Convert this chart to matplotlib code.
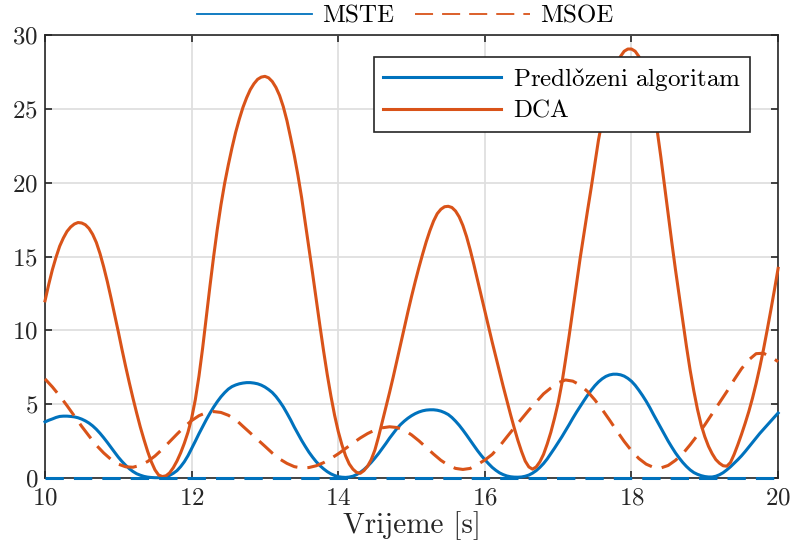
import numpy as np
import matplotlib.pyplot as plt
from matplotlib.lines import Line2D

plt.rcParams["font.family"] = ["cmr10", "DejaVu Serif"]
plt.rcParams["mathtext.fontset"] = "cm"
plt.rcParams["axes.formatter.use_mathtext"] = True

# sample times [s]
t = np.linspace(10.0, 20.0, 201)      # tracking errors, 0.05 s step
t_msoe = np.linspace(10.0, 20.0, 101)  # orientation errors, 0.1 s step

# mean squared tracking error, proposed algorithm
mste_pred = [
    3.8, 3.91, 4.0, 4.1, 4.17, 4.19, 4.19, 4.17, 4.14, 4.08,
    3.99, 3.87, 3.72, 3.53, 3.30, 3.03, 2.73, 2.41, 2.07, 1.74,
    1.41, 1.12, 0.86, 0.63, 0.44, 0.29, 0.19, 0.11, 0.06, 0.035,
    0.02, 0.02, 0.04, 0.095, 0.18, 0.32, 0.5, 0.77, 1.1, 1.51,
    2.0, 2.49, 3.0, 3.48, 3.95, 4.39, 4.8, 5.17, 5.5, 5.78,
    6.02, 6.19, 6.30, 6.38, 6.43, 6.46, 6.46, 6.43, 6.38, 6.29,
    6.16, 5.99, 5.79, 5.52, 5.19, 4.82, 4.39, 3.94, 3.45, 3.0,
    2.55, 2.14, 1.75, 1.41, 1.1, 0.84, 0.62, 0.43, 0.28, 0.17,
    0.09, 0.055, 0.04, 0.065, 0.12, 0.23, 0.38, 0.57, 0.8, 1.06,
    1.35, 1.66, 2.0, 2.34, 2.7, 3.03, 3.35, 3.62, 3.85, 4.05,
    4.22, 4.36, 4.47, 4.55, 4.6, 4.62, 4.62, 4.59, 4.53, 4.43,
    4.3, 4.1, 3.85, 3.57, 3.25, 2.91, 2.55, 2.2, 1.85, 1.53,
    1.24, 0.97, 0.72, 0.52, 0.35, 0.23, 0.14, 0.085, 0.06, 0.055,
    0.07, 0.12, 0.2, 0.33, 0.5, 0.72, 0.98, 1.29, 1.65, 2.02,
    2.4, 2.79, 3.2, 3.62, 4.05, 4.46, 4.85, 5.23, 5.6, 5.94,
    6.25, 6.51, 6.72, 6.88, 6.98, 7.03, 7.03, 6.99, 6.9, 6.75,
    6.55, 6.28, 5.95, 5.59, 5.2, 4.77, 4.3, 3.85, 3.4, 2.95,
    2.5, 2.09, 1.7, 1.36, 1.05, 0.78, 0.55, 0.37, 0.25, 0.16,
    0.1, 0.07, 0.07, 0.12, 0.22, 0.36, 0.55, 0.76, 1.0, 1.24,
    1.5, 1.79, 2.1, 2.41, 2.72, 3.02, 3.3, 3.58, 3.85, 4.13,
    4.4,
]

# mean squared tracking error, DCA
mste_dca = [
    12.0, 13.1, 14.1, 14.95, 15.7, 16.25, 16.7, 17.0, 17.2, 17.3,
    17.27, 17.15, 16.9, 16.5, 15.95, 15.2, 14.3, 13.3, 12.2, 11.05,
    9.9, 8.7, 7.55, 6.45, 5.4, 4.4, 3.45, 2.6, 1.8, 1.1,
    0.55, 0.2, 0.1, 0.15, 0.35, 0.7, 1.15, 1.7, 2.35, 3.1,
    4.05, 5.3, 6.9, 8.8, 10.9, 13.0, 15.0, 16.85, 18.5, 19.95,
    21.2, 22.35, 23.4, 24.3, 25.1, 25.75, 26.3, 26.7, 27.0, 27.15,
    27.2, 27.1, 26.85, 26.45, 25.9, 25.15, 24.2, 23.05, 21.85, 20.5,
    19.0, 17.3, 15.6, 13.85, 12.05, 10.3, 8.6, 7.0, 5.55, 4.25,
    3.15, 2.25, 1.5, 0.95, 0.6, 0.38, 0.32, 0.5, 0.8, 1.25,
    1.9, 2.8, 3.8, 4.8, 5.8, 6.85, 7.95, 9.05, 10.15, 11.25,
    12.3, 13.3, 14.25, 15.15, 16.0, 16.75, 17.4, 17.9, 18.2, 18.37,
    18.4, 18.32, 18.08, 17.68, 17.1, 16.35, 15.45, 14.45, 13.4, 12.35,
    11.3, 10.25, 9.2, 8.2, 7.2, 6.2, 5.25, 4.3, 3.4, 2.55,
    1.8, 1.15, 0.75, 0.6, 0.75, 1.1, 1.6, 2.3, 3.1, 4.05,
    5.1, 6.4, 8.0, 9.65, 11.4, 13.15, 14.9, 16.5, 18.1, 19.65,
    21.3, 22.9, 24.2, 25.4, 26.4, 27.3, 28.0, 28.55, 28.9, 29.05,
    29.05, 28.9, 28.55, 28.0, 27.3, 26.4, 25.1, 23.55, 21.75, 19.8,
    17.85, 15.95, 14.1, 12.35, 10.6, 8.9, 7.3, 5.9, 4.65, 3.6,
    2.8, 2.15, 1.65, 1.25, 1.0, 0.83, 0.8, 1.05, 1.6, 2.25,
    2.95, 3.7, 4.5, 5.4, 6.4, 7.5, 8.7, 10.0, 11.35, 12.75,
    14.2,
]

# mean squared orientation error, proposed algorithm (stays near zero)
msoe_pred = [0.02] * len(t_msoe)

# mean squared orientation error, DCA
msoe_dca = [
    6.71, 6.17, 5.56, 4.9, 4.2, 3.5, 2.85, 2.22, 1.70, 1.26,
    0.94, 0.76, 0.73, 0.86, 1.12, 1.49, 1.95, 2.46, 2.97, 3.46,
    3.89, 4.22, 4.43, 4.5, 4.44, 4.25, 3.96, 3.5, 3.05, 2.6,
    2.15, 1.69, 1.29, 0.99, 0.77, 0.68, 0.71, 0.83, 1.04, 1.32,
    1.64, 2.0, 2.36, 2.71, 3.01, 3.25, 3.40, 3.47, 3.42, 3.24,
    2.92, 2.52, 2.07, 1.62, 1.20, 0.87, 0.65, 0.58, 0.65, 0.92,
    1.22, 1.6, 2.15, 2.78, 3.4, 4.0, 4.6, 5.15, 5.7, 6.1,
    6.45, 6.64, 6.56, 6.29, 5.86, 5.29, 4.64, 3.93, 3.19, 2.48,
    1.85, 1.32, 0.94, 0.72, 0.68, 0.85, 1.2, 1.65, 2.25, 2.9,
    3.6, 4.35, 5.1, 5.85, 6.65, 7.4, 8.0, 8.42, 8.45, 8.2,
    7.88,
]

blue = "#0072BD"
orange = "#D95319"
lw = 2.2
dash = (0, (6, 3.3))
style = dict(lw=lw, zorder=3, clip_on=False,
             solid_joinstyle="round", dash_joinstyle="round")

fig = plt.figure(figsize=(7.94, 5.53), dpi=100)
ax = fig.add_axes([0.0567, 0.1356, 0.9233, 0.8011])

l_pred, = ax.plot(t, mste_pred, color=blue,
                  label=r"Predlo$\check{\mathrm{z}}$eni algoritam", **style)
l_dca, = ax.plot(t, mste_dca, color=orange, label="DCA", **style)
ax.plot(t_msoe, msoe_dca, color=orange, ls=dash, **style)
# near-zero curve sits on the bottom spine, keep it drawn above it
ax.plot(t_msoe, msoe_pred, color=blue, ls=dash, **{**style, "zorder": 4})

ax.set_xlim(10, 20)
ax.set_ylim(0, 30)
ax.set_xticks([10, 12, 14, 16, 18, 20])
ax.set_yticks([0, 5, 10, 15, 20, 25, 30])
ax.grid(True, color="#dfdfdf", lw=1.3)
ax.set_axisbelow(True)
for s in ax.spines.values():
    s.set_color("#262626")
    s.set_linewidth(1.2)
ax.tick_params(direction="in", length=5, width=1.2, color="#262626",
               labelsize=18, labelcolor="#262626", top=True, right=True)
ax.tick_params(axis="x", pad=7)
ax.tick_params(axis="y", pad=5)
ax.set_xlabel("Vrijeme [s]", fontsize=21, color="#262626", labelpad=1)

leg = ax.legend(handles=[l_pred, l_dca], loc="upper right",
                bbox_to_anchor=(0.9618, 0.9503), borderaxespad=0,
                fontsize=18, handlelength=4.7, handletextpad=0.5,
                labelspacing=0.3, borderpad=0.35, fancybox=False,
                framealpha=1, edgecolor="#262626")
leg.get_frame().set_linewidth(1.2)
leg.set_zorder(5)

# line style key above the axes
style_handles = [
    Line2D([], [], color=blue, lw=1.3),
    Line2D([], [], color=orange, lw=1.3, ls=(0, (10, 5))),
]
fig.legend(style_handles, ["MSTE", "MSOE"], loc="center",
           bbox_to_anchor=(0.51, 0.971), ncol=2, frameon=False,
           fontsize=18, handlelength=4.6, handletextpad=0.4,
           columnspacing=0.85)

fig.savefig("out.png", dpi=100)
